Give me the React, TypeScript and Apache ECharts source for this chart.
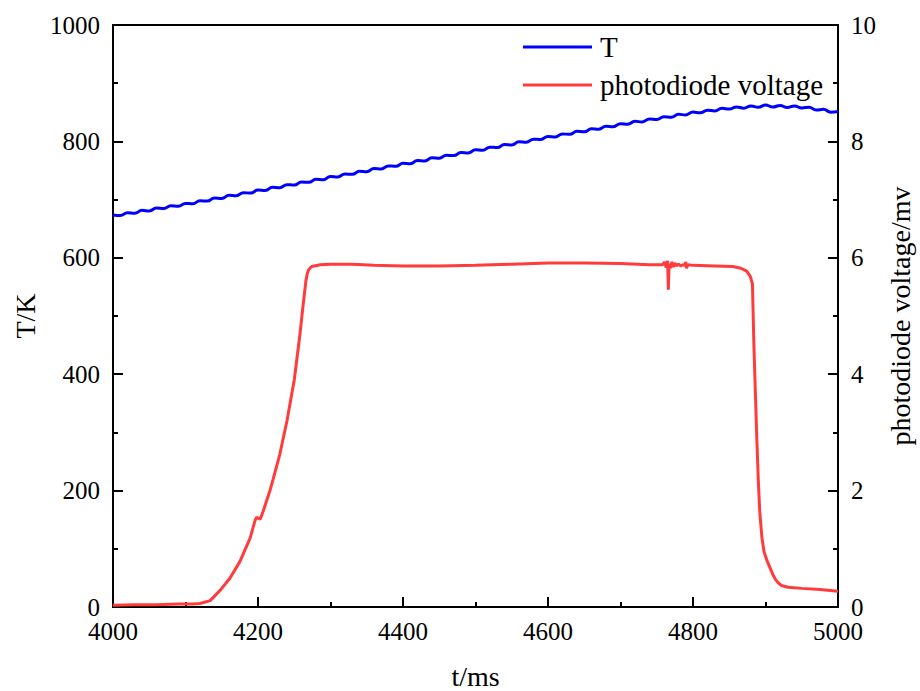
import React, { useEffect, useRef } from "react";
import * as echarts from "echarts";

// Time axis for the temperature series (ms)
const tempTime: number[] = [
  4000, 4010, 4020, 4030, 4040, 4050, 4060, 4070, 4080, 4090,
  4100, 4110, 4120, 4130, 4140, 4150, 4160, 4170, 4180, 4190,
  4200, 4210, 4220, 4230, 4240, 4250, 4260, 4270, 4280, 4290,
  4300, 4310, 4320, 4330, 4340, 4350, 4360, 4370, 4380, 4390,
  4400, 4410, 4420, 4430, 4440, 4450, 4460, 4470, 4480, 4490,
  4500, 4510, 4520, 4530, 4540, 4550, 4560, 4570, 4580, 4590,
  4600, 4610, 4620, 4630, 4640, 4650, 4660, 4670, 4680, 4690,
  4700, 4710, 4720, 4730, 4740, 4750, 4760, 4770, 4780, 4790,
  4800, 4810, 4820, 4830, 4840, 4850, 4860, 4870, 4880, 4890,
  4900, 4910, 4920, 4930, 4940, 4950, 4960, 4970, 4980, 4990,
  5000,
];
// Temperature T (K) (with its visible ripple)
const tempValue: number[] = [
  673.5, 672.5, 677.5, 676.5, 681.5, 680.5, 685.5, 684.5, 689.5, 688.5,
  693.5, 692.8, 698.1, 697.4, 702.7, 702.0, 707.3, 706.6, 711.9, 711.2,
  716.5, 715.8, 721.1, 720.4, 725.7, 725.0, 730.3, 729.6, 734.9, 734.2,
  739.5, 738.8, 744.1, 743.4, 748.7, 748.0, 753.3, 752.6, 757.9, 757.2,
  762.5, 761.8, 767.1, 766.4, 771.7, 771.0, 776.3, 775.6, 780.9, 780.2,
  785.5, 784.8, 790.1, 789.4, 794.7, 794.0, 799.3, 798.6, 803.9, 803.2,
  808.5, 807.7, 812.9, 812.1, 817.3, 816.5, 821.7, 820.9, 826.1, 825.3,
  830.5, 829.5, 834.5, 833.5, 838.5, 837.5, 842.5, 841.5, 846.5, 845.5,
  850.5, 849.1, 853.7, 852.3, 856.9, 855.5, 859.3, 857.1, 860.9, 858.7,
  862.5, 859.1, 861.7, 858.3, 860.9, 857.5, 858.7, 853.9, 855.1, 850.3,
  851.5,
];

// Time axis for the photodiode voltage (ms)
const voltTime: number[] = [
  4000, 4030, 4060, 4090, 4110, 4120, 4134, 4148, 4161, 4175,
  4189, 4196, 4198, 4203, 4207, 4217, 4221, 4230, 4240, 4250,
  4258, 4262, 4266, 4268, 4270, 4274, 4286, 4300, 4330, 4360,
  4400, 4450, 4500, 4550, 4600, 4650, 4700, 4740, 4758, 4761,
  4763, 4765, 4766, 4767, 4769, 4771, 4773, 4775, 4777, 4780,
  4783, 4786, 4789, 4790, 4791, 4793, 4800, 4830, 4855, 4866,
  4874, 4879, 4882, 4884, 4886, 4888, 4890, 4892, 4895, 4898,
  4902, 4906, 4910, 4914, 4918, 4922, 4931, 4950, 4975, 5000,
];
// Photodiode voltage (mV)
const voltValue: number[] = [
  0.03, 0.04, 0.04, 0.05, 0.05, 0.06, 0.11, 0.29, 0.49, 0.78,
  1.18, 1.49, 1.54, 1.51, 1.64, 2.02, 2.2, 2.62, 3.2, 3.9,
  4.7, 5.16, 5.6, 5.73, 5.8, 5.85, 5.88, 5.89, 5.89, 5.87,
  5.86, 5.86, 5.87, 5.89, 5.91, 5.91, 5.9, 5.88, 5.88, 5.93,
  5.83, 5.95, 5.45, 5.9, 5.82, 5.93, 5.84, 5.91, 5.86, 5.89,
  5.86, 5.88, 5.87, 5.93, 5.82, 5.88, 5.87, 5.86, 5.85, 5.82,
  5.77, 5.68, 5.55, 4.5, 3.7, 2.9, 2.2, 1.65, 1.2, 0.95,
  0.8, 0.68, 0.56, 0.47, 0.41, 0.37, 0.34, 0.32, 0.3, 0.27,
];

const seriesNames: string[] = ["T", "photodiode voltage"];
const xAxisTitle = "t/ms";
const leftAxisTitle = "T/K";
const rightAxisTitle = "photodiode voltage/mv";

const FONT = "'Liberation Serif', 'Times New Roman', serif";

export default function App() {
  const ref = useRef<HTMLDivElement>(null);
  useEffect(() => {
    if (!ref.current) return;
    const chart = echarts.init(ref.current, null, { renderer: "svg" });
    const axisLine = { show: true, lineStyle: { color: "#000", width: 2 } };
    const labelStyle = {
      color: "#000",
      fontFamily: FONT,
      fontSize: 25,
      formatter: (v: number) => String(v),
    };
    const nameStyle = { color: "#000", fontFamily: FONT, fontSize: 28 };
    const tick = { show: true, inside: true, length: 10, lineStyle: { color: "#000", width: 2 } };
    const minor = { show: true, splitNumber: 2, length: 5, lineStyle: { color: "#000", width: 2 } };
    chart.setOption({
      animation: false,
      backgroundColor: "#fff",
      grid: {
        left: 113,
        right: 82,
        top: 25,
        bottom: 84,
        containLabel: false,
        outerBoundsMode: "none",
        show: true,
        borderColor: "#000",
        borderWidth: 2,
        backgroundColor: "transparent",
      },
      legend: {
        orient: "vertical",
        left: 518,
        top: 27,
        icon: "rect",
        itemWidth: 69,
        itemHeight: 3,
        itemGap: 8,
        textStyle: {
          color: "#000",
          fontFamily: FONT,
          fontSize: 29,
          lineHeight: 30,
          padding: [0, 0, 0, 3],
        },
        data: seriesNames,
      },
      xAxis: {
        type: "value",
        min: 4000,
        max: 5000,
        interval: 200,
        name: xAxisTitle,
        nameLocation: "middle",
        nameGap: 55,
        nameTextStyle: nameStyle,
        axisLine,
        axisTick: tick,
        minorTick: minor,
        axisLabel: { ...labelStyle, margin: 12 },
        splitLine: { show: false },
      },
      yAxis: [
        {
          type: "value",
          min: 0,
          max: 1000,
          interval: 200,
          name: leftAxisTitle,
          nameLocation: "middle",
          nameRotate: 90,
          nameGap: 63,
          nameTextStyle: nameStyle,
          axisLine,
          axisTick: tick,
          minorTick: minor,
          axisLabel: { ...labelStyle, margin: 13 },
          splitLine: { show: false },
        },
        {
          type: "value",
          position: "right",
          min: 0,
          max: 10,
          interval: 2,
          name: rightAxisTitle,
          nameLocation: "middle",
          nameRotate: 90,
          nameGap: 44,
          nameTextStyle: nameStyle,
          axisLine,
          axisTick: tick,
          minorTick: minor,
          axisLabel: { ...labelStyle, margin: 13 },
          splitLine: { show: false },
        },
      ],
      series: [
        {
          name: seriesNames[0],
          type: "line",
          yAxisIndex: 0,
          showSymbol: false,
          smooth: 0.5,
          lineStyle: { color: "#0000ff", width: 3 },
          itemStyle: { color: "#0000ff" },
          data: tempTime.map((t, i) => [t, tempValue[i]]),
          z: 3,
        },
        {
          name: seriesNames[1],
          type: "line",
          yAxisIndex: 1,
          showSymbol: false,
          lineStyle: { color: "#ff3b3b", width: 3 },
          itemStyle: { color: "#ff3b3b" },
          data: voltTime.map((t, i) => [t, voltValue[i]]),
          z: 2,
        },
      ],
    });
    return () => chart.dispose();
  }, []);
  return (
    <div
      ref={ref}
      style={{ position: "fixed", left: 0, top: 0, width: 920, height: 691 }}
    />
  );
}
